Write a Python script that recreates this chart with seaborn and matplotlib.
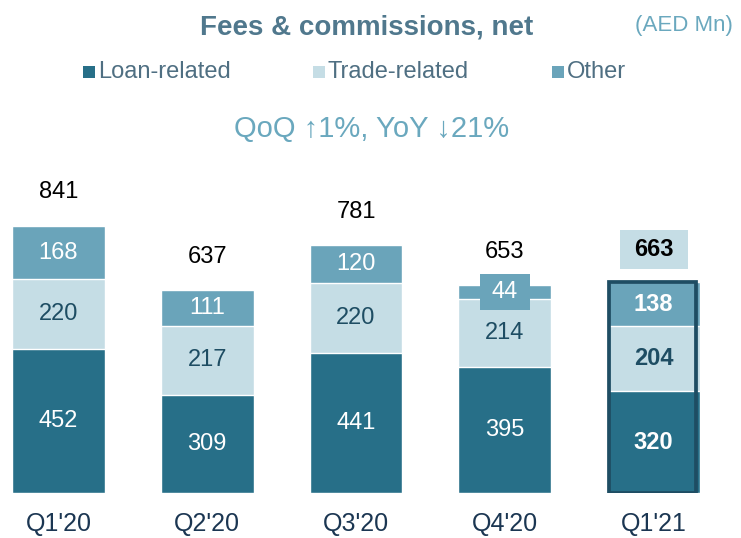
import numpy as np
import pandas as pd
import matplotlib.pyplot as plt
import seaborn as sns
from matplotlib.patches import Rectangle

quarters = ["Q1'20", "Q2'20", "Q3'20", "Q4'20", "Q1'21"]
loan = [452, 309, 441, 395, 320]
trade = [220, 217, 220, 214, 204]
other = [168, 111, 120, 44, 138]
totals = [841, 637, 781, 653, 663]

C_LOAN = "#276F88"
C_TRADE = "#C5DDE5"
C_OTHER = "#6AA4BA"
C_DARK = "#1E4D63"
C_TITLE = "#50788D"
C_SUB = "#6AA8BE"
C_TICK = "#1B3652"

sns.set_theme(style="white")
plt.rcParams["font.family"] = ["Liberation Sans", "DejaVu Sans"]

df = pd.DataFrame({"quarter": quarters, "loan": loan, "trade": trade, "other": other})
df["lt"] = df["loan"] + df["trade"]
df["all"] = df["lt"] + df["other"]

W, H = 741, 538
px_unit = 148.75      # pixels per category step
px_val = 0.318        # pixels per AED Mn
fig = plt.figure(figsize=(W / 100, H / 100), dpi=100)
ax = fig.add_axes([0.0, 45 / H, 1.0, 493 / H])

bw = 0.625
sns.barplot(data=df, x="quarter", y="all", color=C_OTHER, saturation=1, width=bw, ax=ax)
sns.barplot(data=df, x="quarter", y="lt", color=C_TRADE, saturation=1, width=bw, ax=ax)
sns.barplot(data=df, x="quarter", y="loan", color=C_LOAN, saturation=1, width=bw, ax=ax)

ax.set_xlim(-58.5 / px_unit, (W - 58.5) / px_unit)
ax.set_ylim(0, 493 / px_val)
ax.set_xlabel("")
ax.set_ylabel("")
ax.set_yticks([])
ax.tick_params(axis="x", length=0, labelsize=18, colors=C_TICK, pad=14)
sns.despine(ax=ax, left=True, bottom=True)

# outline on last quarter
last = len(quarters) - 1
ax.add_patch(Rectangle((last - bw / 2 + 0.01, 0), bw - 0.035, df["all"].iloc[last],
                       fill=False, edgecolor=C_DARK, linewidth=2.7, zorder=5))

fs = 17
for i in range(len(quarters)):
    bold = "bold" if i == last else "normal"
    ax.text(i, loan[i] / 2, str(loan[i]), ha="center", va="center", color="white",
            fontsize=fs, fontweight=bold, zorder=6)
    ax.text(i, loan[i] + trade[i] / 2, str(trade[i]), ha="center", va="center", color=C_DARK,
            fontsize=fs, fontweight=bold, zorder=6)
    ymid = loan[i] + trade[i] + other[i] / 2
    if i == 3:
        bx, bh = 50 / px_unit, 36 / px_val
        ax.add_patch(Rectangle((i - bx / 2, ymid - bh / 2), bx, bh, facecolor=C_OTHER,
                               edgecolor="none", zorder=5))
    ax.text(i, ymid, str(other[i]), ha="center", va="center",
            color="white", fontsize=fs, fontweight=bold, zorder=6)
    ytot = totals[i] + 104
    if i == last:
        bx, bh = 68 / px_unit, 39 / px_val
        ax.add_patch(Rectangle((i - bx / 2, ytot - bh / 2), bx, bh, facecolor=C_TRADE,
                               edgecolor="none", zorder=5, clip_on=False))
    ax.text(i, ytot, str(totals[i]), ha="center", va="center", color="black",
            fontsize=fs, fontweight=bold, zorder=6)

# title, unit, legend, subtitle
fig.text(367 / W, 1 - 28 / H, "Fees & commissions, net", ha="center", va="center",
         fontsize=20, fontweight="bold", color=C_TITLE)
fig.text(684 / W, 1 - 26 / H, "(AED Mn)", ha="center", va="center", fontsize=16, color=C_SUB)

legend_items = [("Loan-related", C_LOAN, 83), ("Trade-related", C_TRADE, 313), ("Other", C_OTHER, 552)]
for label, col, px in legend_items:
    fig.patches.append(Rectangle((px / W, 1 - 78 / H), 12 / W, 12 / H,
                                 transform=fig.transFigure, facecolor=col, edgecolor="none"))
    fig.text((px + 15) / W, 1 - 72 / H, label, ha="left", va="center", fontsize=17, color="#4F6F82")

fig.text(372 / W, 1 - 129 / H, "QoQ \u21911%, YoY \u219321%", ha="center", va="center",
         fontsize=21, color=C_SUB)

fig.savefig("out.png", dpi=100)
